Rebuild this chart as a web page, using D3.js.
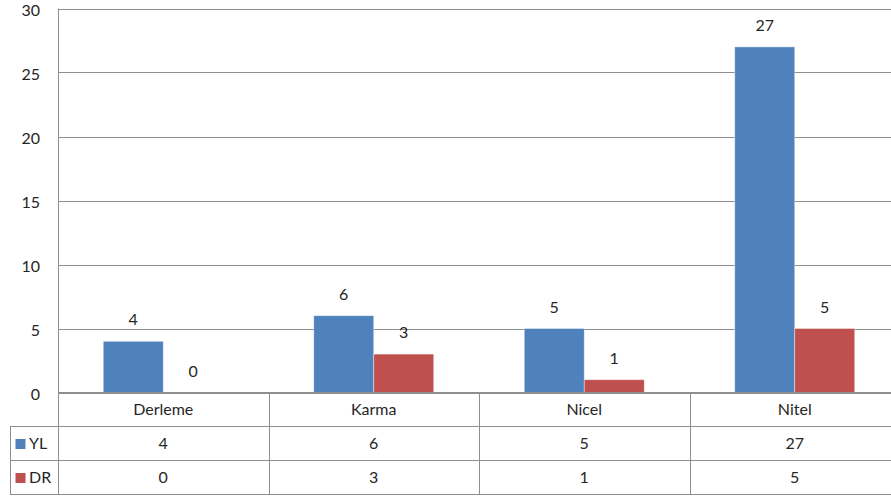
<!DOCTYPE html>
<html>
<head>
<meta charset="utf-8">
<script src="https://cdn.jsdelivr.net/npm/d3@7"></script>
<style>
  html, body { margin: 0; padding: 0; background: #fff; }
  svg { display: block; font-family: Lato, "Open Sans", sans-serif; }
</style>
</head>
<body>
<svg id="chart" width="891" height="497"></svg>
<script>
const categories = ['Derleme', 'Karma', 'Nicel', 'Nitel'];
const seriesNames = ['YL', 'DR'];
const ylValues = [4, 6, 5, 27];
const drValues = [0, 3, 1, 5];
const yTicks = [0, 5, 10, 15, 20, 25, 30];
const colors = ['#4f81bd', '#c0504d'];

const series = [ylValues, drValues];

// layout
const plotLeft = 58;
const plotRight = 900;
const plotTop = 8.5;
const zeroY = 392.5;
const rowH = [392.5, 426.5, 460.5, 494.5];
const legendLeft = 10;
const gridColor = '#8e8e8e';

const svg = d3.select('#chart');

const x = d3.scaleBand().domain(categories).range([plotLeft, plotRight]);
const y = d3.scaleLinear().domain([0, 30]).range([zeroY, plotTop]);
const barW = x.bandwidth() * 0.285;

// gridlines
svg.append('g')
   .selectAll('line')
   .data(yTicks)
   .enter().append('line')
     .attr('x1', plotLeft)
     .attr('x2', plotRight)
     .attr('y1', d => Math.round(y(d)) + 0.5)
     .attr('y2', d => Math.round(y(d)) + 0.5)
     .attr('stroke', gridColor)
     .attr('stroke-width', 1);

// y labels
svg.append('g')
   .selectAll('text')
   .data(yTicks)
   .enter().append('text')
     .attr('x', 40)
     .attr('y', d => y(d) + 1.5)
     .attr('dy', '0.35em')
     .attr('text-anchor', 'end')
     .attr('font-size', 16)
     .attr('fill', '#262626')
     .text(d => d);

// bars
series.forEach((vals, si) => {
  const g = svg.append('g');
  g.selectAll('rect')
   .data(vals)
   .enter().append('rect')
     .attr('x', (d, i) => x(categories[i]) + x.bandwidth() / 2 - barW + si * barW)
     .attr('y', d => y(d))
     .attr('width', barW)
     .attr('height', d => zeroY - y(d))
     .attr('fill', colors[si])
     .attr('stroke', 'rgba(255,255,255,0.5)')
     .attr('stroke-width', 0.8);

  g.selectAll('text')
   .data(vals)
   .enter().append('text')
     .attr('x', (d, i) => x(categories[i]) + x.bandwidth() / 2 - barW / 2 + si * barW)
     .attr('y', d => y(d) - 16)
     .attr('text-anchor', 'middle')
     .attr('font-size', 16)
     .attr('fill', '#262626')
     .text(d => d);
});

// data table
const table = svg.append('g').attr('stroke', gridColor).attr('stroke-width', 1);

// horizontal lines
table.append('line')
     .attr('x1', plotLeft).attr('x2', plotRight)
     .attr('y1', rowH[0]).attr('y2', rowH[0]);
rowH.slice(1).forEach(ry => {
  table.append('line')
       .attr('x1', legendLeft).attr('x2', plotRight)
       .attr('y1', ry).attr('y2', ry);
});

// vertical lines
table.append('line')
     .attr('x1', legendLeft + 0.5).attr('x2', legendLeft + 0.5)
     .attr('y1', rowH[1]).attr('y2', rowH[3]);
table.append('line')
     .attr('x1', plotLeft + 0.5).attr('x2', plotLeft + 0.5)
     .attr('y1', plotTop).attr('y2', rowH[3]);
categories.slice(1).forEach(c => {
  const vx = Math.round(x(c)) + 0.5;
  table.append('line')
       .attr('x1', vx).attr('x2', vx)
       .attr('y1', rowH[0]).attr('y2', rowH[3]);
});

// category row
svg.append('g')
   .selectAll('text')
   .data(categories)
   .enter().append('text')
     .attr('x', d => x(d) + x.bandwidth() / 2)
     .attr('y', (rowH[0] + rowH[1]) / 2)
     .attr('dy', '0.35em')
     .attr('text-anchor', 'middle')
     .attr('font-size', 16)
     .attr('fill', '#262626')
     .text(d => d);

// value rows
series.forEach((vals, si) => {
  const cy = (rowH[si + 1] + rowH[si + 2]) / 2;
  const g = svg.append('g');
  g.append('rect')
   .attr('x', 15.5)
   .attr('y', cy - 4.5)
   .attr('width', 10)
   .attr('height', 10)
   .attr('fill', colors[si]);
  g.append('text')
   .attr('x', 29)
   .attr('y', cy)
   .attr('dy', '0.35em')
   .attr('font-size', 16)
   .attr('fill', '#262626')
   .text(seriesNames[si]);
  g.selectAll('text.val')
   .data(vals)
   .enter().append('text')
     .attr('class', 'val')
     .attr('x', (d, i) => x(categories[i]) + x.bandwidth() / 2)
     .attr('y', cy)
     .attr('dy', '0.35em')
     .attr('text-anchor', 'middle')
     .attr('font-size', 16)
     .attr('fill', '#262626')
     .text(d => d);
});
</script>
</body>
</html>
